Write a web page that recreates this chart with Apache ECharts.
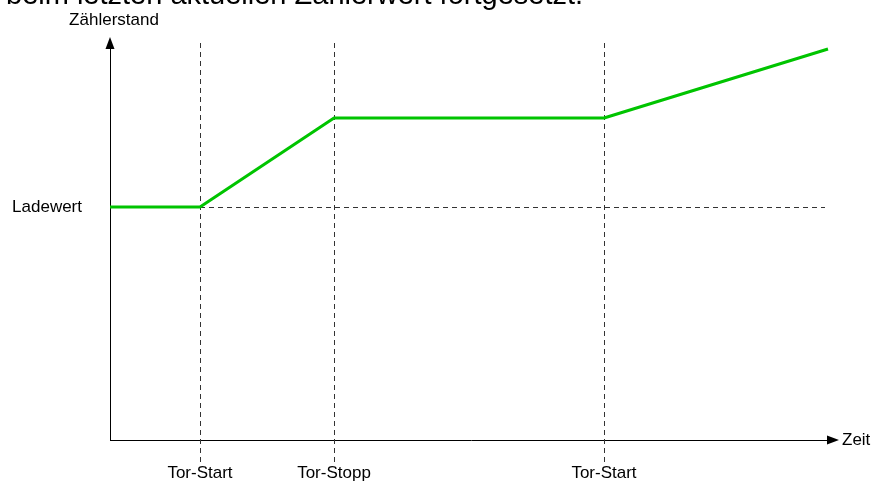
<!DOCTYPE html>
<html>
<head>
<meta charset="utf-8">
<script src="https://cdn.jsdelivr.net/npm/echarts@6/dist/echarts.min.js"></script>
<style>
  html, body { margin: 0; padding: 0; background: #fff; }
  #chart { width: 871px; height: 485px; }
</style>
</head>
<body>
<div id="chart"></div>
<script>
// Zeitpunkte (x) und Zählerstand (y) in willkürlichen Einheiten
const gateTimes = [90, 224, 494]
const gateLabels = ['Tor-Start', 'Tor-Stopp', 'Tor-Start']
const countX = [0, 90, 224, 494, 718]
const countY = [233, 233, 322, 322, 391]
const loadValue = 233
const loadLabel = 'Ladewert'

const xMax = 725
const yMin = -22
const yMax = 400

const chart = echarts.init(document.getElementById('chart'))

const font = 'Liberation Sans, Arial, sans-serif'

let option = {
  animation: false,
  title: {
    text: 'beim letzten aktuellen Zählerwert fortgesetzt.',
    left: 1,
    top: -24,
    textStyle: { fontFamily: font, fontSize: 29, fontWeight: 'normal', color: '#000' },
  },
  grid: { left: 110, right: 36, top: 40, bottom: 23 },
  xAxis: {
    type: 'value',
    min: 0,
    max: xMax,
    axisLine: { show: false },
    axisTick: { show: false },
    splitLine: { show: false },
    axisLabel: {
      customValues: gateTimes,
      formatter: (v) => gateLabels[gateTimes.indexOf(v)],
      color: '#000',
      fontFamily: font,
      fontSize: 17,
      margin: 3,
    },
  },
  yAxis: {
    type: 'value',
    min: yMin,
    max: yMax,
    axisLine: { show: false },
    axisTick: { show: false },
    splitLine: { show: false },
    axisLabel: {
      customValues: [loadValue],
      formatter: () => loadLabel,
      color: '#000',
      fontFamily: font,
      fontSize: 17,
      margin: 28,
    },
  },
  series: [
    {
      // Achsen mit Pfeilen
      type: 'line',
      data: [],
      markLine: {
        silent: true,
        symbol: ['none', 'triangle'],
        symbolSize: [9, 12],
        lineStyle: { type: 'solid', color: '#000', width: 1 },
        label: { show: true, position: 'end', color: '#000', fontFamily: font, fontSize: 17 },
        data: [
          [{ coord: [0, 0] }, { coord: [723, 0], label: { formatter: 'Zeit', distance: 9 } }],
          [{ coord: [0, 0] }, { coord: [0, 397], label: { formatter: 'Zählerstand', distance: 14, offset: [4, 0] } }],
        ],
      },
    },
    {
      // gestrichelte Hilfslinien
      type: 'line',
      data: [],
      markLine: {
        silent: true,
        symbol: ['none', 'none'],
        label: { show: false },
        lineStyle: { type: [5, 4], color: '#333', width: 1 },
        data: gateTimes
          .map((t) => [{ coord: [t, yMin] }, { coord: [t, yMax] }])
          .concat([[{ coord: [gateTimes[0], loadValue] }, { coord: [715, loadValue] }]]),
      },
    },
    {
      name: 'Zählerstand',
      type: 'line',
      data: countX.map((x, i) => [x, countY[i]]),
      symbol: 'none',
      z: 5,
      lineStyle: { color: '#00c400', width: 3 },
    },
  ],
}
chart.setOption(option)
</script>
</body>
</html>
